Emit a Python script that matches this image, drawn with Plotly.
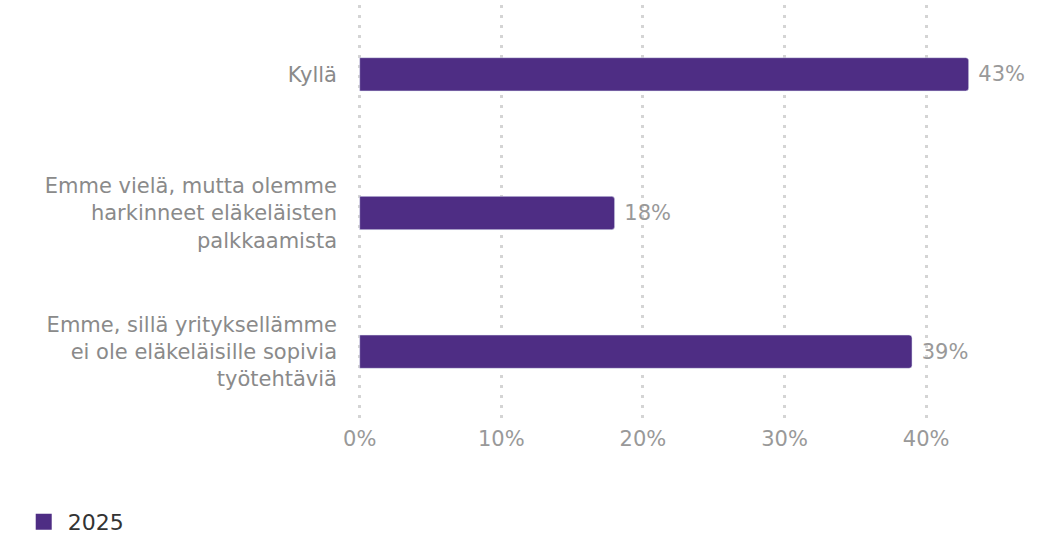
import plotly.graph_objects as go

categories = [
    "Kyllä",
    "Emme vielä, mutta olemme<br>harkinneet eläkeläisten<br>palkkaamista",
    "Emme, sillä yrityksellämme<br>ei ole eläkeläisille sopivia<br>työtehtäviä",
]
values_2025 = [43, 18, 39]
tick_values = [0, 10, 20, 30, 40]
tick_labels = ["0%", "10%", "20%", "30%", "40%"]

bar_color = "#4e2d84"
font_family = "DejaVu Sans, sans-serif"
label_gray = "#8a8a8a"

fig = go.Figure()
fig.add_trace(
    go.Bar(
        x=values_2025,
        y=categories,
        orientation="h",
        name="2025",
        width=0.24,
        showlegend=False,
        marker=dict(color=bar_color, cornerradius=3),
        text=[f"{v}%" for v in values_2025],
        texttemplate=" %{text}",
        textposition="outside",
        textfont=dict(family=font_family, size=21, color="#999999"),
        cliponaxis=False,
    )
)
# legend entry for the series
fig.add_trace(
    go.Scatter(
        x=[None],
        y=[None],
        mode="markers",
        name="2025",
        marker=dict(color=bar_color, symbol="square", size=20),
    )
)

fig.update_layout(
    width=1038,
    height=538,
    margin=dict(l=358, r=41, t=5, b=117),
    paper_bgcolor="white",
    plot_bgcolor="white",
    font=dict(family=font_family),
    showlegend=True,
    legend=dict(
        orientation="h",
        xref="container",
        yref="container",
        x=0.019,
        y=1 - 522 / 538,
        xanchor="left",
        yanchor="middle",
        itemwidth=38,
        font=dict(family=font_family, size=22, color="#333333"),
    ),
    xaxis=dict(
        range=[-0.12, 45],
        tickvals=tick_values,
        ticktext=tick_labels,
        showgrid=True,
        gridcolor="#d4d4d4",
        gridwidth=3,
        griddash="3px,7px",
        zeroline=False,
        showline=False,
        fixedrange=True,
        ticklabelstandoff=3,
        tickfont=dict(family=font_family, size=21, color="#999999"),
        ticks="",
    ),
    yaxis=dict(
        autorange="reversed",
        showgrid=False,
        zeroline=False,
        showline=False,
        ticks="",
        ticklabelstandoff=20,
        tickfont=dict(family=font_family, size=21, color=label_gray),
    ),
)

fig.write_html("out.html")
